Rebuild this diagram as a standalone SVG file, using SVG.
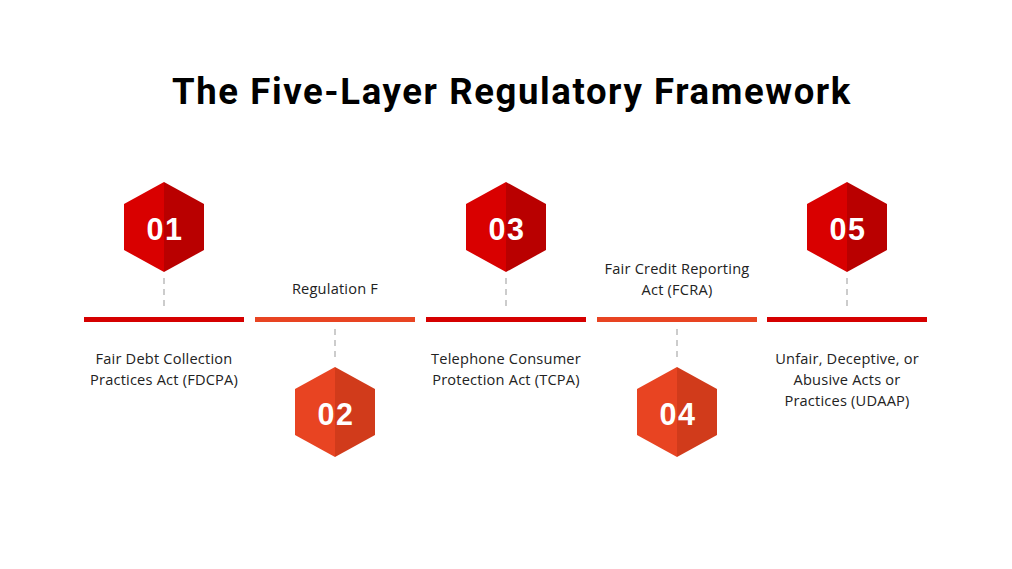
<svg xmlns="http://www.w3.org/2000/svg" width="1012" height="569" viewBox="0 0 1012 569">
<defs>
<style>
.title{font-family:Roboto,"Liberation Sans",sans-serif;font-weight:700;font-size:36.5px;letter-spacing:1.6px;fill:#000;text-anchor:middle}
.lbl{font-family:"Open Sans","Noto Sans","Liberation Sans",sans-serif;font-size:14.6px;letter-spacing:0.2px;fill:#222;text-anchor:middle}
.num{font-family:"Liberation Sans",Arial,sans-serif;font-weight:700;font-size:30.5px;letter-spacing:1.5px;fill:#fff;text-anchor:middle}
.rl{fill:#d90000}.rr{fill:#b90000}
.ol{fill:#e84422}.or{fill:#d13b1b}
.barR{fill:#d50000}.barO{fill:#e84422}
.dash{stroke:#cccccc;stroke-width:2;stroke-dasharray:6,5;fill:none}
</style>
</defs>
<rect width="1012" height="569" fill="#ffffff"/>
<text class="title" x="512" y="104">The Five-Layer Regulatory Framework</text>
<g id="connectors">
<rect class="barR" x="84" y="317" width="160" height="5"/>
<rect class="barO" x="255" y="317" width="160" height="5"/>
<rect class="barR" x="426" y="317" width="160" height="5"/>
<rect class="barO" x="597" y="317" width="160" height="5"/>
<rect class="barR" x="767" y="317" width="160" height="5"/>
<line class="dash" x1="164" y1="278" x2="164" y2="308"/>
<line class="dash" x1="335" y1="329" x2="335" y2="359"/>
<line class="dash" x1="506" y1="278" x2="506" y2="308"/>
<line class="dash" x1="677" y1="329" x2="677" y2="359"/>
<line class="dash" x1="847" y1="278" x2="847" y2="308"/>
</g>
<g id="node01">
<polygon class="rl" points="164,182 124,204 124,250 164,272"/>
<polygon class="rr" points="164,182 204,204 204,250 164,272"/>
<text class="num" x="165" y="240">01</text>
<text class="lbl" x="164" y="364">Fair Debt Collection</text>
<text class="lbl" x="164" y="385">Practices Act (FDCPA)</text>
</g>
<g id="node02">
<polygon class="ol" points="335,367 295,389 295,435 335,457"/>
<polygon class="or" points="335,367 375,389 375,435 335,457"/>
<text class="num" x="336" y="425">02</text>
<text class="lbl" x="335" y="294">Regulation F</text>
</g>
<g id="node03">
<polygon class="rl" points="506,182 466,204 466,250 506,272"/>
<polygon class="rr" points="506,182 546,204 546,250 506,272"/>
<text class="num" x="507" y="240">03</text>
<text class="lbl" x="506" y="364">Telephone Consumer</text>
<text class="lbl" x="506" y="385">Protection Act (TCPA)</text>
</g>
<g id="node04">
<polygon class="ol" points="677,367 637,389 637,435 677,457"/>
<polygon class="or" points="677,367 717,389 717,435 677,457"/>
<text class="num" x="678" y="425">04</text>
<text class="lbl" x="677" y="274">Fair Credit Reporting</text>
<text class="lbl" x="677" y="295">Act (FCRA)</text>
</g>
<g id="node05">
<polygon class="rl" points="847,182 807,204 807,250 847,272"/>
<polygon class="rr" points="847,182 887,204 887,250 847,272"/>
<text class="num" x="848" y="240">05</text>
<text class="lbl" x="847" y="364">Unfair, Deceptive, or</text>
<text class="lbl" x="847" y="385">Abusive Acts or</text>
<text class="lbl" x="847" y="406">Practices (UDAAP)</text>
</g>
</svg>
